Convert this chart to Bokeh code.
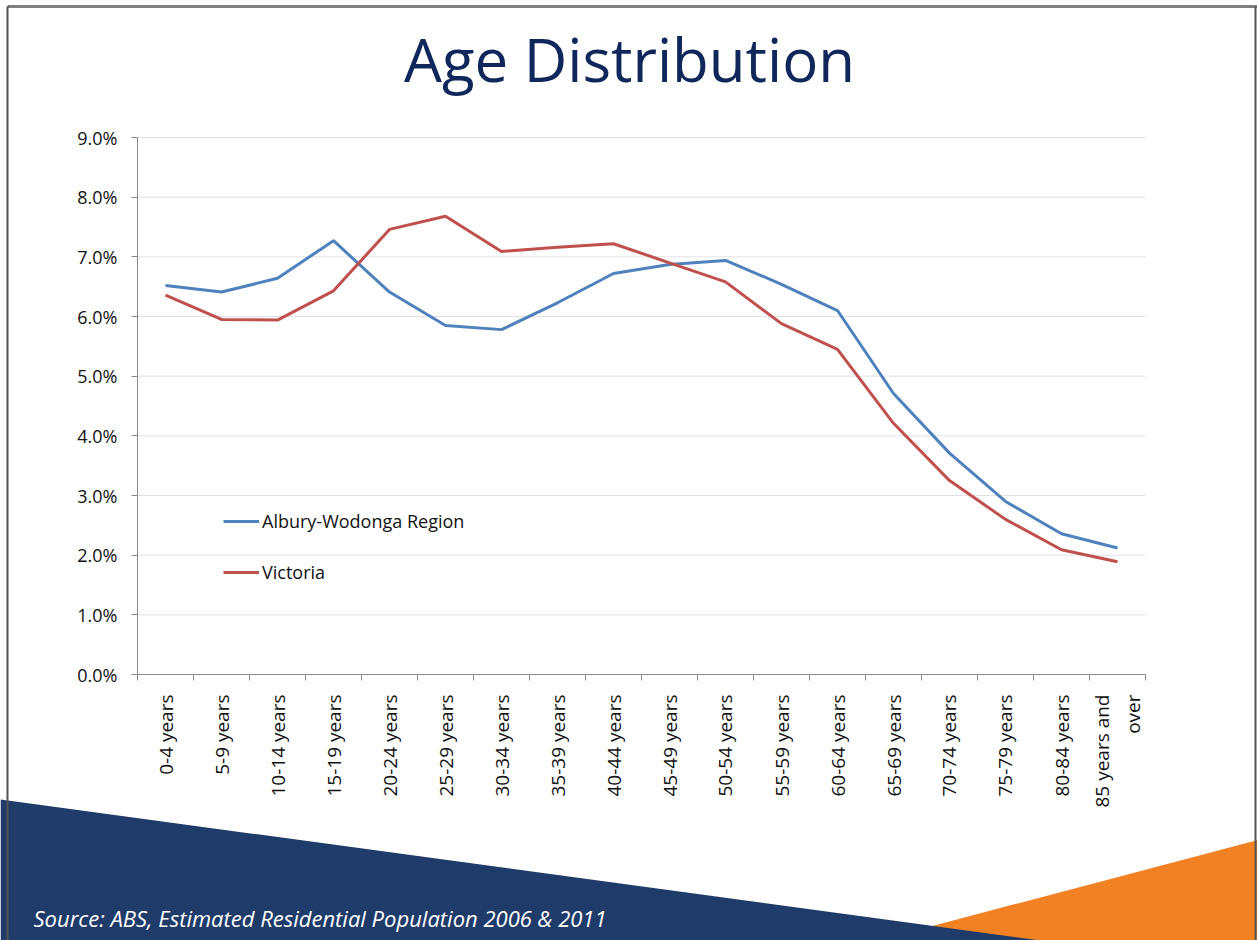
from bokeh.plotting import figure
from bokeh.models import (Range1d, FixedTicker, PrintfTickFormatter, Legend, LegendItem,
                          LinearAxis)
from bokeh.core.properties import value
from bokeh.embed import file_html
from bokeh.resources import INLINE

# ---------------- data ----------------
title_text = "Age Distribution"
source_text = "Source: ABS, Estimated Residential Population 2006 & 2011"
age_groups = ["0-4 years", "5-9 years", "10-14 years", "15-19 years", "20-24 years",
              "25-29 years", "30-34 years", "35-39 years", "40-44 years", "45-49 years",
              "50-54 years", "55-59 years", "60-64 years", "65-69 years", "70-74 years",
              "75-79 years", "80-84 years", "85 years and\nover"]
albury = [6.52, 6.41, 6.64, 7.27, 6.41, 5.85, 5.78, 6.23, 6.72, 6.87,
          6.94, 6.54, 6.10, 4.71, 3.71, 2.90, 2.36, 2.12]
victoria = [6.36, 5.95, 5.94, 6.43, 7.46, 7.68, 7.09, 7.16, 7.22, 6.90,
            6.58, 5.88, 5.45, 4.21, 3.25, 2.60, 2.09, 1.89]
series_names = ["Albury-Wodonga Region", "Victoria"]
y_ticks = [0, 1, 2, 3, 4, 5, 6, 7, 8, 9]

# ---------------- style / geometry ----------------
W, H = 1257, 940
FONT = "Open Sans"
NAVY = "#0f275a"
BLUE = "#4F81BD"
RED = "#C0504D"
AXIS = "#8a8a8a"
GRID = "#e2e2e2"
TXT = "#111111"

# chart area in page pixels
CL, CR, CT, CB = 137.0, 1145.0, 137.0, 674.0
n = len(age_groups)
ymax = y_ticks[-1]
ux = (CR - CL) / n            # px per category
uy = (CB - CT) / ymax         # px per percent

p = figure(width=W, height=H, x_range=Range1d(0, W), y_range=Range1d(H, 0),
           min_border=0, toolbar_location=None, output_backend="svg", title=None,
           x_axis_location=None, y_axis_location=None)
p.grid.visible = False
p.outline_line_color = None
p.background_fill_color = "white"
p.border_fill_color = "white"

p.extra_x_ranges = {"cx": Range1d(-0.5 - CL / ux, -0.5 + (W - CL) / ux)}
p.extra_y_ranges = {"cy": Range1d(-(H - CB) / uy, CB / uy)}

# ---------------- title ----------------
p.text(x=[629], y=[58], text=[title_text], text_font=value(FONT), text_font_size="60px",
       text_color=NAVY, text_align="center", text_baseline="alphabetic")

# ---------------- chart ----------------
xs = list(range(n))
p.segment(x0=[-0.5] * len(y_ticks), x1=[n - 0.5] * len(y_ticks), y0=y_ticks, y1=y_ticks,
          x_range_name="cx", y_range_name="cy", line_color=GRID, line_width=1)

r1 = p.line(x=xs, y=albury, line_color=BLUE, line_width=3,
            x_range_name="cx", y_range_name="cy")
r2 = p.line(x=xs, y=victoria, line_color=RED, line_width=3,
            x_range_name="cx", y_range_name="cy")

yax = LinearAxis(y_range_name="cy", fixed_location=CL, bounds=(0, ymax),
                 ticker=FixedTicker(ticks=y_ticks),
                 formatter=PrintfTickFormatter(format="%.1f%%"))
yax.axis_line_color = AXIS
yax.major_tick_line_color = AXIS
yax.major_tick_out = 6
yax.major_tick_in = 0
yax.minor_tick_line_color = None
yax.major_label_standoff = 14
yax.major_label_text_font = FONT
yax.major_label_text_font_size = "18px"
yax.major_label_text_color = TXT
p.add_layout(yax, "left")

xax = LinearAxis(x_range_name="cx", fixed_location=CB, bounds=(-0.5, n - 0.5),
                 ticker=FixedTicker(ticks=xs, minor_ticks=[i - 0.5 for i in range(n + 1)]))
xax.major_label_overrides = {i: lab for i, lab in zip(xs, age_groups)}
xax.axis_line_color = AXIS
xax.major_tick_out = 0
xax.major_tick_in = 0
xax.major_tick_line_color = None
xax.minor_tick_out = 6
xax.minor_tick_in = 0
xax.minor_tick_line_color = AXIS
xax.major_label_orientation = 1.5707963
xax.major_label_standoff = 14
xax.major_label_text_font = FONT
xax.major_label_text_font_size = "19px"
xax.major_label_text_color = TXT
p.add_layout(xax, "below")

legend = Legend(items=[LegendItem(label=series_names[0], renderers=[r1]),
                       LegendItem(label=series_names[1], renderers=[r2])],
                location=(223, 356), orientation="vertical", glyph_width=36, glyph_height=20,
                label_height=20, label_standoff=3, spacing=27, padding=0, margin=0,
                border_line_color=None, background_fill_alpha=0,
                label_text_font=FONT, label_text_font_size="18px", label_text_color=TXT)
p.add_layout(legend)

# ---------------- bottom decoration ----------------
p.patch(x=[930, 1262, 1262, 870], y=[926, 838.2, 945, 945], fill_color="#F28123", line_color=None)
p.patch(x=[0, 1080, 0], y=[799, 945.4, 945.4], fill_color="#1F3B69", line_color=None)
p.text(x=[33], y=[917], text=[source_text], text_font=value(FONT), text_font_size="22px",
       text_font_style="italic", text_color="white", text_align="left", text_baseline="alphabetic")

# slide frame
p.segment(x0=[7, 7, 1255], y0=[6, 6, 6], x1=[1257, 7, 1255], y1=[6, 940, 940],
          line_color=["#7f7f7f", "#555555", "#555555"], line_width=[3, 2, 2])

open("out.html", "w").write(file_html(p, INLINE))
